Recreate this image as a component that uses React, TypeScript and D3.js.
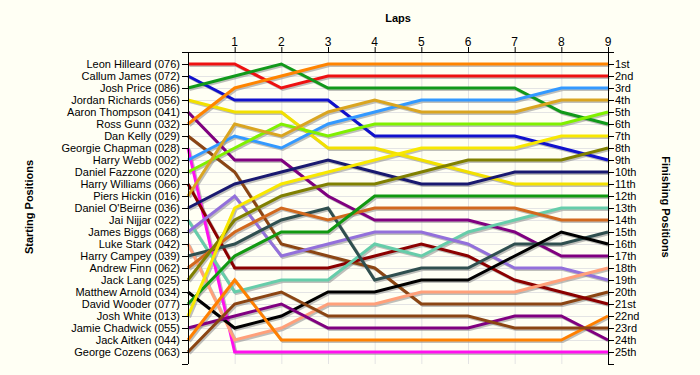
import React from 'react';
import * as d3 from 'd3';

const drivers = [
  'Leon Hilleard (076)', 'Callum James (072)', 'Josh Price (086)', 'Jordan Richards (056)',
  'Aaron Thompson (041)', 'Ross Gunn (032)', 'Dan Kelly (029)', 'Georgie Chapman (028)',
  'Harry Webb (002)', 'Daniel Fazzone (020)', 'Harry Williams (066)', 'Piers Hickin (016)',
  "Daniel O'Beirne (036)", 'Jai Nijjar (022)', 'James Biggs (068)', 'Luke Stark (042)',
  'Harry Campey (039)', 'Andrew Finn (062)', 'Jack Lang (025)', 'Matthew Arnold (034)',
  'David Wooder (077)', 'Josh White (013)', 'Jamie Chadwick (055)', 'Jack Aitken (044)',
  'George Cozens (063)'
];

const driverColors = [
  '#ee1111', '#1111cc', '#11991a', '#f2e000', '#800080', '#ff8400', '#8b4513', '#ff10ee',
  '#3399ff', '#80f000', '#8b0000', '#daa520', '#191970', '#66cdaa', '#9370db', '#ffa07a',
  '#2f4f4f', '#d2691e', '#808000', '#000000', '#119911', '#f8e800', '#800080', '#ff8000',
  '#8b4513'
];

const laps = [0, 1, 2, 3, 4, 5, 6, 7, 8, 9];
const lapTicks = [1, 2, 3, 4, 5, 6, 7, 8, 9];

// position of each driver at laps 0..9
const positions = [
  [1, 1, 3, 2, 2, 2, 2, 2, 2, 2],
  [2, 4, 4, 4, 7, 7, 7, 7, 8, 9],
  [3, 2, 1, 3, 3, 3, 3, 3, 5, 6],
  [4, 5, 5, 8, 8, 9, 10, 11, 11, 11],
  [5, 9, 9, 12, 14, 14, 14, 15, 17, 17],
  [6, 3, 2, 1, 1, 1, 1, 1, 1, 1],
  [7, 10, 16, 17, 18, 21, 21, 21, 21, 20],
  [8, 25, 25, 25, 25, 25, 25, 25, 25, 25],
  [9, 7, 8, 6, 5, 4, 4, 4, 3, 3],
  [10, 8, 6, 7, 6, 6, 6, 6, 6, 5],
  [11, 18, 18, 18, 17, 16, 17, 19, 20, 21],
  [12, 6, 7, 5, 4, 5, 5, 5, 4, 4],
  [13, 11, 10, 9, 10, 11, 11, 10, 10, 10],
  [14, 20, 19, 19, 16, 17, 15, 14, 13, 13],
  [15, 12, 17, 16, 15, 15, 16, 18, 18, 19],
  [16, 24, 23, 21, 21, 20, 20, 20, 19, 18],
  [17, 16, 14, 13, 19, 18, 18, 16, 16, 15],
  [18, 15, 13, 14, 13, 13, 13, 13, 14, 14],
  [19, 14, 12, 11, 11, 10, 9, 9, 9, 8],
  [20, 23, 22, 20, 20, 19, 19, 17, 15, 16],
  [21, 17, 15, 15, 12, 12, 12, 12, 12, 12],
  [22, 13, 11, 10, 9, 8, 8, 8, 7, 7],
  [23, 22, 21, 23, 23, 23, 23, 22, 22, 24],
  [24, 19, 24, 24, 24, 24, 24, 24, 24, 22],
  [25, 21, 20, 22, 22, 22, 22, 23, 23, 23]
];

const finishLabels = [
  '1st', '2nd', '3rd', '4th', '5th', '6th', '7th', '8th', '9th', '10th', '11th', '12th', '13th',
  '14th', '15th', '16th', '17th', '18th', '19th', '20th', '21st', '22nd', '23rd', '24th', '25th'
];

const W = 700;
const H = 375;
const font = 'Liberation Sans, Arial, sans-serif';

export default function App() {
  const x = d3.scaleLinear().domain([0, 9]).range([188, 608]);
  const y = d3.scaleLinear().domain([0, 26]).range([52, 364]);
  const rows = d3.range(1, 26);

  const line = d3.line<number>()
    .x((_, i) => x(laps[i]))
    .y(d => y(d));

  return (
    <div style={{ position: 'fixed', left: 0, top: 0 }}>
      <svg width={W} height={H} style={{ display: 'block', background: '#fffff4' }}>
        {/* grid */}
        <g stroke="#e4e4e4" strokeWidth={1}>
          {rows.map(r => (
            <line key={'h' + r} x1={x(0)} x2={x(9)} y1={y(r) + 0.5} y2={y(r) + 0.5} />
          ))}
          {lapTicks.map(l => (
            <line key={'v' + l} x1={x(l) + 0.5} x2={x(l) + 0.5} y1={y(0)} y2={y(26)} />
          ))}
        </g>

        {/* shadows */}
        <g fill="none" stroke="#8a8a8a" strokeOpacity={0.55} strokeWidth={3} transform="translate(1.5,1.5)">
          {positions.map((p, i) => <path key={'s' + i} d={line(p) || ''} />)}
        </g>
        {/* series */}
        <g fill="none" strokeWidth={3}>
          {positions.map((p, i) => (
            <path key={'l' + i} d={line(p) || ''} stroke={driverColors[i]} />
          ))}
        </g>

        {/* left axis */}
        <g stroke="#000" strokeWidth={1}>
          <line x1={x(0) + 0.5} x2={x(0) + 0.5} y1={y(0)} y2={y(26)} />
          {d3.range(0, 27).map(r => (
            <line key={'lt' + r} x1={x(0) - 6} x2={x(0)} y1={y(r) + 0.5} y2={y(r) + 0.5} />
          ))}
          <line x1={x(9) + 0.5} x2={x(9) + 0.5} y1={y(0)} y2={y(26)} />
          {d3.range(0, 27).map(r => (
            <line key={'rt' + r} x1={x(9)} x2={x(9) + 6} y1={y(r) + 0.5} y2={y(r) + 0.5} />
          ))}
          <line x1={x(0)} x2={x(9)} y1={y(0) + 0.5} y2={y(0) + 0.5} />
          {lapTicks.map(l => (
            <line key={'tt' + l} x1={x(l) + 0.5} x2={x(l) + 0.5} y1={y(0) - 5} y2={y(0)} />
          ))}
        </g>

        <g fontFamily={font} fontSize={11} fill="#000">
          {drivers.map((d, i) => (
            <text key={'dl' + i} x={x(0) - 8} y={y(i + 1)} dy="0.35em" textAnchor="end">{d}</text>
          ))}
          {finishLabels.map((f, i) => (
            <text key={'fl' + i} x={x(9) + 7} y={y(i + 1)} dy="0.35em">{f}</text>
          ))}
        </g>
        <g fontFamily={font} fontSize={12} fill="#000">
          {lapTicks.map(l => (
            <text key={'lap' + l} x={x(l)} y={46} textAnchor="middle">{l}</text>
          ))}
        </g>

        <g fontFamily={font} fontSize={11} fontWeight="bold" fill="#000">
          <text x={398} y={22} textAnchor="middle">Laps</text>
          <text transform="translate(33,207) rotate(-90)" textAnchor="middle">Starting Positions</text>
          <text transform="translate(662,207) rotate(90)" textAnchor="middle">Finishing Positions</text>
        </g>
      </svg>
    </div>
  );
}
